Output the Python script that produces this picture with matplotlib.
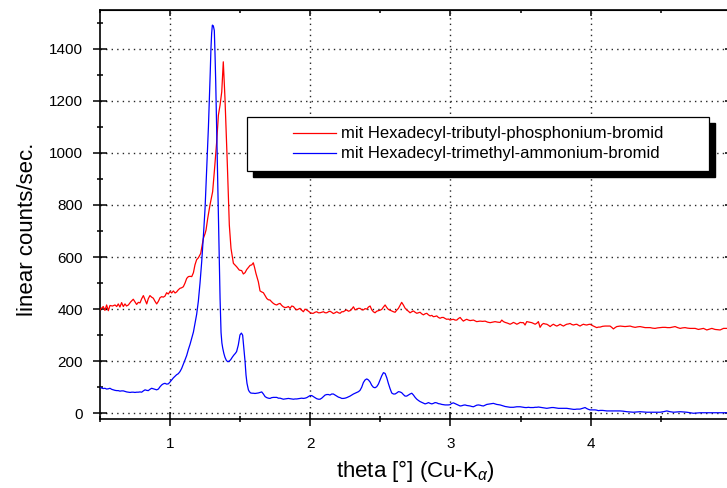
import matplotlib
matplotlib.use("Agg")
import matplotlib.pyplot as plt
import matplotlib.patches as patches
from matplotlib.ticker import MultipleLocator
import numpy as np

plt.rcParams['font.family'] = ['Liberation Sans', 'DejaVu Sans']
plt.rcParams['mathtext.fontset'] = 'custom'
plt.rcParams['mathtext.rm'] = 'Liberation Sans'
plt.rcParams['mathtext.it'] = 'Liberation Sans:italic'

label_red = "mit Hexadecyl-tributyl-phosphonium-bromid"
label_blue = "mit Hexadecyl-trimethyl-ammonium-bromid"

# red: tributyl-phosphonium (theta, counts)
red_theta = [0.50, 0.524, 0.536, 0.548, 0.56, 0.572, 0.59, 0.608, 0.62, 0.631,
             0.643, 0.655, 0.667, 0.679, 0.69, 0.703, 0.72, 0.738, 0.75, 0.762,
             0.774, 0.786, 0.798, 0.81, 0.822, 0.834, 0.845, 0.857, 0.869, 0.881,
             0.893, 0.905, 0.917, 0.929, 0.941, 0.952, 0.964, 0.976, 0.988, 1.0,
             1.012, 1.024, 1.036, 1.047, 1.059, 1.071, 1.083, 1.095, 1.107, 1.119,
             1.131, 1.143, 1.155, 1.167, 1.178, 1.19, 1.202, 1.219, 1.238, 1.25,
             1.257, 1.269, 1.285, 1.304, 1.316, 1.333, 1.345, 1.357, 1.369, 1.38,
             1.392, 1.409, 1.423, 1.435, 1.452, 1.475, 1.494, 1.511, 1.523, 1.535,
             1.547, 1.559, 1.571, 1.583, 1.594, 1.603, 1.613, 1.63, 1.642, 1.654,
             1.666, 1.678, 1.69, 1.701, 1.713, 1.725, 1.737, 1.749, 1.761, 1.773,
             1.785, 1.797, 1.808, 1.82, 1.832, 1.844, 1.856, 1.868, 1.88, 1.892,
             1.904, 1.915, 1.927, 1.939, 1.951, 1.963, 1.975, 1.987, 1.999, 2.011,
             2.022, 2.034, 2.046, 2.058, 2.07, 2.082, 2.094, 2.106, 2.118, 2.13,
             2.141, 2.153, 2.165, 2.177, 2.189, 2.201, 2.213, 2.225, 2.236, 2.248,
             2.26, 2.272, 2.284, 2.296, 2.308, 2.32, 2.332, 2.344, 2.355, 2.367,
             2.379, 2.391, 2.403, 2.415, 2.427, 2.438, 2.45, 2.462, 2.474, 2.486,
             2.498, 2.51, 2.522, 2.534, 2.546, 2.557, 2.569, 2.581, 2.593, 2.605,
             2.617, 2.629, 2.64, 2.652, 2.664, 2.676, 2.688, 2.7, 2.712, 2.724,
             2.736, 2.748, 2.76, 2.772, 2.783, 2.795, 2.807, 2.819, 2.831, 2.843,
             2.855, 2.867, 2.878, 2.89, 2.902, 2.914, 2.926, 2.938, 2.95, 2.962,
             2.973, 2.985, 2.997, 3.009, 3.021, 3.033, 3.045, 3.057, 3.069, 3.081,
             3.092, 3.104, 3.116, 3.128, 3.14, 3.152, 3.164, 3.176, 3.187, 3.199,
             3.211, 3.229, 3.247, 3.265, 3.283, 3.3, 3.318, 3.336, 3.354, 3.366,
             3.378, 3.39, 3.408, 3.425, 3.437, 3.449, 3.461, 3.473, 3.485, 3.497,
             3.509, 3.52, 3.532, 3.544, 3.562, 3.58, 3.592, 3.604, 3.616, 3.627,
             3.639, 3.651, 3.663, 3.675, 3.687, 3.699, 3.711, 3.722, 3.734, 3.746,
             3.758, 3.77, 3.782, 3.794, 3.806, 3.818, 3.829, 3.841, 3.853, 3.865,
             3.877, 3.889, 3.901, 3.913, 3.924, 3.936, 3.948, 3.96, 3.972, 3.984,
             3.996, 4.008, 4.02, 4.031, 4.043, 4.055, 4.067, 4.085, 4.103, 4.12,
             4.138, 4.15, 4.162, 4.174, 4.186, 4.198, 4.21, 4.228, 4.245, 4.263,
             4.281, 4.299, 4.317, 4.335, 4.352, 4.37, 4.388, 4.406, 4.424, 4.441,
             4.459, 4.477, 4.495, 4.513, 4.531, 4.548, 4.566, 4.584, 4.602, 4.62,
             4.638, 4.655, 4.673, 4.691, 4.709, 4.727, 4.745, 4.757, 4.768, 4.786,
             4.804, 4.816, 4.828, 4.846, 4.864, 4.876, 4.887, 4.905, 4.923, 4.935,
             4.947, 4.973]
red_counts = [397, 410, 395, 416, 394, 414, 412, 416, 410, 420,
              408, 425, 410, 420, 412, 416, 428, 438, 428, 418,
              426, 424, 440, 452, 436, 420, 440, 452, 446, 442,
              430, 420, 430, 444, 448, 446, 450, 463, 458, 468,
              462, 470, 462, 466, 474, 480, 482, 486, 500, 518,
              525, 526, 525, 540, 570, 590, 597, 614, 672, 690,
              704, 749, 800, 851, 928, 1043, 1145, 1184, 1235, 1350,
              1210, 953, 723, 633, 576, 563, 550, 548, 535, 540,
              552, 560, 568, 570, 578, 560, 537, 505, 470, 466,
              463, 452, 441, 436, 435, 428, 422, 418, 416, 420,
              422, 414, 409, 406, 407, 410, 403, 412, 410, 402,
              397, 400, 403, 396, 390, 400, 397, 392, 387, 384,
              384, 388, 390, 386, 386, 388, 390, 386, 386, 390,
              392, 388, 383, 386, 390, 386, 384, 390, 390, 394,
              397, 392, 394, 400, 409, 397, 400, 403, 403, 398,
              397, 402, 400, 408, 412, 398, 390, 386, 392, 394,
              396, 399, 408, 416, 406, 399, 396, 393, 390, 388,
              396, 403, 414, 426, 416, 404, 397, 392, 386, 390,
              393, 388, 384, 386, 388, 382, 378, 382, 384, 378,
              374, 376, 371, 372, 374, 368, 365, 368, 368, 364,
              361, 362, 358, 360, 361, 358, 358, 364, 368, 360,
              354, 358, 361, 358, 356, 357, 358, 355, 352, 353,
              354, 353, 354, 350, 348, 350, 352, 350, 349, 358,
              352, 349, 346, 342, 345, 349, 346, 342, 345, 349,
              348, 348, 339, 352, 350, 348, 345, 342, 346, 352,
              330, 340, 345, 343, 342, 338, 333, 338, 342, 338,
              335, 338, 342, 338, 335, 339, 342, 343, 345, 341,
              339, 341, 342, 338, 335, 339, 342, 340, 339, 341,
              342, 338, 335, 332, 329, 331, 331, 334, 335, 335,
              335, 330, 324, 329, 333, 334, 335, 334, 333, 334,
              335, 332, 330, 332, 333, 331, 329, 329, 329, 327,
              326, 328, 329, 330, 330, 329, 329, 331, 333, 329,
              326, 328, 329, 327, 326, 326, 326, 324, 322, 324,
              326, 323, 320, 323, 326, 324, 322, 321, 320, 323,
              326, 326]

# blue: trimethyl-ammonium (theta, counts)
blue_theta = [0.50, 0.512, 0.524, 0.536, 0.548, 0.56, 0.572, 0.584, 0.596, 0.608,
              0.62, 0.631, 0.643, 0.655, 0.667, 0.679, 0.691, 0.703, 0.715, 0.727,
              0.738, 0.75, 0.762, 0.774, 0.786, 0.798, 0.81, 0.822, 0.834, 0.845,
              0.857, 0.869, 0.881, 0.893, 0.905, 0.917, 0.929, 0.941, 0.952, 0.964,
              0.976, 0.988, 1.0, 1.012, 1.024, 1.036, 1.047, 1.059, 1.071, 1.083,
              1.095, 1.107, 1.119, 1.131, 1.143, 1.155, 1.167, 1.178, 1.19, 1.202,
              1.214, 1.226, 1.238, 1.25, 1.258, 1.266, 1.274, 1.281, 1.287, 1.292,
              1.297, 1.302, 1.309, 1.316, 1.321, 1.326, 1.332, 1.338, 1.344, 1.35,
              1.357, 1.364, 1.37, 1.376, 1.384, 1.392, 1.401, 1.411, 1.422, 1.433,
              1.445, 1.456, 1.466, 1.475, 1.487, 1.494, 1.499, 1.509, 1.518, 1.528,
              1.535, 1.542, 1.549, 1.559, 1.566, 1.575, 1.585, 1.594, 1.606, 1.618,
              1.63, 1.642, 1.654, 1.666, 1.678, 1.69, 1.701, 1.713, 1.725, 1.737,
              1.749, 1.761, 1.773, 1.785, 1.797, 1.808, 1.82, 1.832, 1.844, 1.856,
              1.868, 1.88, 1.892, 1.904, 1.915, 1.927, 1.939, 1.951, 1.963, 1.975,
              1.987, 1.999, 2.011, 2.022, 2.034, 2.046, 2.058, 2.07, 2.082, 2.094,
              2.106, 2.118, 2.13, 2.141, 2.153, 2.165, 2.177, 2.189, 2.201, 2.213,
              2.225, 2.236, 2.248, 2.26, 2.272, 2.284, 2.296, 2.308, 2.32, 2.332,
              2.344, 2.355, 2.367, 2.379, 2.391, 2.403, 2.415, 2.427, 2.438, 2.45,
              2.462, 2.474, 2.486, 2.498, 2.51, 2.522, 2.534, 2.546, 2.557, 2.569,
              2.581, 2.593, 2.605, 2.617, 2.629, 2.64, 2.652, 2.664, 2.676, 2.688,
              2.7, 2.712, 2.724, 2.736, 2.748, 2.76, 2.772, 2.783, 2.795, 2.807,
              2.819, 2.831, 2.843, 2.855, 2.867, 2.878, 2.89, 2.902, 2.914, 2.926,
              2.938, 2.95, 2.962, 2.973, 2.985, 2.997, 3.009, 3.021, 3.033, 3.045,
              3.057, 3.069, 3.081, 3.092, 3.104, 3.116, 3.128, 3.14, 3.152, 3.164,
              3.176, 3.187, 3.199, 3.211, 3.223, 3.235, 3.247, 3.259, 3.271, 3.283,
              3.295, 3.306, 3.318, 3.33, 3.342, 3.354, 3.366, 3.378, 3.39, 3.401,
              3.413, 3.425, 3.437, 3.449, 3.461, 3.473, 3.485, 3.497, 3.509, 3.52,
              3.532, 3.544, 3.556, 3.568, 3.58, 3.592, 3.604, 3.616, 3.627, 3.639,
              3.651, 3.663, 3.675, 3.687, 3.699, 3.711, 3.722, 3.734, 3.746, 3.758,
              3.77, 3.782, 3.794, 3.806, 3.818, 3.829, 3.841, 3.853, 3.865, 3.877,
              3.889, 3.901, 3.913, 3.924, 3.936, 3.948, 3.96, 3.972, 3.984, 3.996,
              4.008, 4.02, 4.031, 4.043, 4.055, 4.067, 4.085, 4.103, 4.115, 4.138,
              4.162, 4.186, 4.21, 4.233, 4.257, 4.281, 4.305, 4.328, 4.352, 4.376,
              4.4, 4.424, 4.448, 4.471, 4.495, 4.519, 4.543, 4.566, 4.59, 4.614,
              4.638, 4.661, 4.685, 4.709, 4.733, 4.757, 4.78, 4.804, 4.828, 4.851,
              4.875, 4.899, 4.923, 4.947, 4.973]
blue_counts = [100, 97, 95, 96, 93, 94, 96, 92, 90, 88,
               87, 87, 85, 86, 86, 84, 82, 81, 80, 81,
               81, 80, 81, 81, 82, 81, 86, 90, 88, 87,
               92, 96, 94, 92, 90, 93, 102, 109, 113, 115,
               112, 113, 120, 128, 136, 142, 148, 152, 160, 172,
               188, 205, 222, 245, 265, 288, 312, 345, 380, 430,
               500, 582, 680, 787, 890, 992, 1100, 1210, 1310, 1401,
               1460, 1491, 1488, 1470, 1380, 1273, 1110, 953, 790, 633,
               441, 310, 270, 250, 230, 215, 204, 198, 200, 206,
               216, 224, 230, 237, 262, 285, 301, 308, 300, 240,
               200, 147, 115, 90, 83, 78, 77, 77, 76, 77,
               78, 80, 82, 74, 64, 60, 58, 57, 60, 61,
               61, 61, 58, 58, 56, 54, 55, 56, 57, 56,
               55, 54, 55, 55, 56, 57, 58, 57, 58, 60,
               64, 68, 68, 64, 60, 56, 54, 54, 58, 64,
               70, 72, 72, 70, 74, 74, 70, 66, 62, 60,
               57, 57, 58, 60, 63, 66, 70, 74, 77, 80,
               83, 88, 100, 118, 128, 132, 128, 120, 108, 100,
               98, 102, 112, 128, 144, 156, 153, 136, 115, 95,
               78, 74, 74, 78, 83, 82, 79, 72, 66, 66,
               70, 74, 77, 70, 61, 54, 49, 45, 42, 39,
               36, 38, 41, 38, 36, 38, 41, 40, 37, 36,
               34, 33, 32, 32, 32, 33, 38, 40, 37, 34,
               31, 28, 29, 31, 32, 30, 29, 28, 26, 25,
               28, 31, 32, 31, 29, 28, 31, 34, 35, 36,
               37, 38, 36, 34, 33, 32, 30, 28, 26, 25,
               24, 23, 23, 23, 24, 25, 25, 25, 24, 23,
               22, 22, 23, 22, 22, 22, 23, 23, 24, 23,
               22, 21, 20, 19, 20, 21, 22, 22, 21, 20,
               19, 19, 19, 19, 19, 19, 18, 17, 16, 15,
               15, 16, 16, 16, 18, 20, 22, 18, 15, 13,
               13, 13, 13, 12, 10, 11, 11, 10, 9, 9,
               9, 9, 9, 8, 6, 5, 4, 5, 6, 5,
               4, 4, 4, 4, 4, 6, 9, 6, 4, 5,
               6, 5, 4, 2, 0, 1, 2, 2, 2, 2,
               2, 2, 2, 2, 2]

fig = plt.figure(figsize=(7.27, 4.88), dpi=100)
# axes run slightly past the right edge of the picture, like the original
ax = fig.add_axes([0.1374, 0.1414, 0.868, 0.8381])

ax.plot(red_theta, red_counts, color='#ff0000', linewidth=0.9, label=label_red, zorder=3)
ax.plot(blue_theta, blue_counts, color='#0000ff', linewidth=0.9, label=label_blue, zorder=3)

ax.set_xlim(0.5, 5.0)
ax.set_ylim(-22, 1549)
ax.xaxis.set_major_locator(MultipleLocator(1))
ax.xaxis.set_minor_locator(MultipleLocator(0.5))
ax.yaxis.set_major_locator(MultipleLocator(200))
ax.yaxis.set_minor_locator(MultipleLocator(100))

ax.grid(True, which='major', color='0.15', linestyle=(0, (1, 3)), linewidth=1.0)
ax.set_axisbelow(True)

for s in ax.spines.values():
    s.set_linewidth(1.2)

ax.tick_params(which='major', direction='inout', length=10, width=1.1, labelsize=11,
               top=False, right=False)
ax.tick_params(which='minor', direction='inout', length=5, width=1.1,
               top=False, right=False)
ax.tick_params(axis='x', which='major', pad=8)
ax.tick_params(axis='y', which='major', pad=7)

# top and right: short inward ticks only
sec_x = ax.secondary_xaxis('top')
sec_x.xaxis.set_major_locator(MultipleLocator(1))
sec_x.xaxis.set_minor_locator(MultipleLocator(0.5))
sec_x.tick_params(which='major', direction='in', length=4, width=1.1, labeltop=False)
sec_x.tick_params(which='minor', direction='in', length=2.5, width=1.1)
sec_y = ax.secondary_yaxis('right')
sec_y.yaxis.set_major_locator(MultipleLocator(200))
sec_y.yaxis.set_minor_locator(MultipleLocator(100))
sec_y.tick_params(which='major', direction='in', length=4, width=1.1, labelright=False)
sec_y.tick_params(which='minor', direction='in', length=2.5, width=1.1)

ax.set_xlabel(r'theta [°] (Cu-K$_{\alpha}$)', fontsize=16)
ax.set_ylabel('linear counts/sec.', fontsize=16)
ax.xaxis.set_label_coords(0.5, -0.095)
ax.yaxis.set_label_coords(-0.098, 0.4645)

# legend box with a hard black shadow
bx, by, bw, bh = 0.2331, 0.6064, 0.7322, 0.132
shadow = patches.Rectangle((bx + 0.0095, by - 0.0147), bw, bh, transform=ax.transAxes,
                           facecolor='black', edgecolor='black', zorder=5)
box = patches.Rectangle((bx, by), bw, bh, transform=ax.transAxes,
                        facecolor='white', edgecolor='black', linewidth=0.9, zorder=6)
ax.add_patch(shadow)
ax.add_patch(box)
leg = ax.legend(loc='center', bbox_to_anchor=(bx + bw / 2, by + bh / 2), frameon=False,
                fontsize=12, handlelength=2.6, handletextpad=0.3, labelspacing=0.3,
                borderpad=0, borderaxespad=0)
leg.set_zorder(7)

fig.savefig('out.png', dpi=100)
